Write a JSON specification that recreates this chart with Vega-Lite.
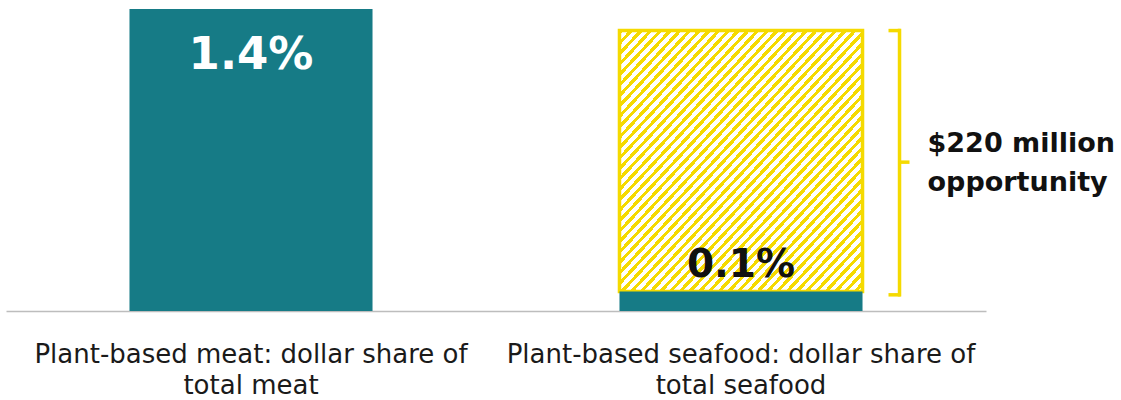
{
  "$schema": "https://vega.github.io/schema/vega-lite/v6.json",
  "width": 980,
  "height": 302,
  "autosize": {"type": "none"},
  "padding": {"left": 6, "top": 9, "right": 135, "bottom": 89},
  "background": "white",
  "config": {"view": {"stroke": null}, "font": "DejaVu Sans"},
  "datasets": {
    "bars": [
      {"category": "Plant-based meat: dollar share of total meat", "share": 1.4, "label": "1.4%"},
      {"category": "Plant-based seafood: dollar share of total seafood", "share": 0.09, "label": "0.1%"}
    ],
    "target": [
      {"category": "Plant-based seafood: dollar share of total seafood", "start": 0.09, "end": 1.3, "low": 0.075, "mid": 0.69, "note": "$220 million\nopportunity"}
    ]
  },
  "layer": [
    {
      "data": {"name": "target"},
      "mark": {
        "type": "bar",
        "stroke": "#f5da00",
        "strokeWidth": 3.5,
        "fill": {
          "gradient": "linear", "x1": 0, "y1": 0, "x2": 1, "y2": 1,
          "stops": [
            {"offset":0,"color":"#f5da00"},{"offset":0.009,"color":"#f5da00"},{"offset":0.009,"color":"#fff"},{"offset":0.02,"color":"#fff"},
            {"offset":0.02,"color":"#f5da00"},{"offset":0.029,"color":"#f5da00"},{"offset":0.029,"color":"#fff"},{"offset":0.04,"color":"#fff"},
            {"offset":0.04,"color":"#f5da00"},{"offset":0.049,"color":"#f5da00"},{"offset":0.049,"color":"#fff"},{"offset":0.06,"color":"#fff"},
            {"offset":0.06,"color":"#f5da00"},{"offset":0.069,"color":"#f5da00"},{"offset":0.069,"color":"#fff"},{"offset":0.08,"color":"#fff"},
            {"offset":0.08,"color":"#f5da00"},{"offset":0.089,"color":"#f5da00"},{"offset":0.089,"color":"#fff"},{"offset":0.1,"color":"#fff"},
            {"offset":0.1,"color":"#f5da00"},{"offset":0.109,"color":"#f5da00"},{"offset":0.109,"color":"#fff"},{"offset":0.12,"color":"#fff"},
            {"offset":0.12,"color":"#f5da00"},{"offset":0.129,"color":"#f5da00"},{"offset":0.129,"color":"#fff"},{"offset":0.14,"color":"#fff"},
            {"offset":0.14,"color":"#f5da00"},{"offset":0.149,"color":"#f5da00"},{"offset":0.149,"color":"#fff"},{"offset":0.16,"color":"#fff"},
            {"offset":0.16,"color":"#f5da00"},{"offset":0.169,"color":"#f5da00"},{"offset":0.169,"color":"#fff"},{"offset":0.18,"color":"#fff"},
            {"offset":0.18,"color":"#f5da00"},{"offset":0.189,"color":"#f5da00"},{"offset":0.189,"color":"#fff"},{"offset":0.2,"color":"#fff"},
            {"offset":0.2,"color":"#f5da00"},{"offset":0.209,"color":"#f5da00"},{"offset":0.209,"color":"#fff"},{"offset":0.22,"color":"#fff"},
            {"offset":0.22,"color":"#f5da00"},{"offset":0.229,"color":"#f5da00"},{"offset":0.229,"color":"#fff"},{"offset":0.24,"color":"#fff"},
            {"offset":0.24,"color":"#f5da00"},{"offset":0.249,"color":"#f5da00"},{"offset":0.249,"color":"#fff"},{"offset":0.26,"color":"#fff"},
            {"offset":0.26,"color":"#f5da00"},{"offset":0.269,"color":"#f5da00"},{"offset":0.269,"color":"#fff"},{"offset":0.28,"color":"#fff"},
            {"offset":0.28,"color":"#f5da00"},{"offset":0.289,"color":"#f5da00"},{"offset":0.289,"color":"#fff"},{"offset":0.3,"color":"#fff"},
            {"offset":0.3,"color":"#f5da00"},{"offset":0.309,"color":"#f5da00"},{"offset":0.309,"color":"#fff"},{"offset":0.32,"color":"#fff"},
            {"offset":0.32,"color":"#f5da00"},{"offset":0.329,"color":"#f5da00"},{"offset":0.329,"color":"#fff"},{"offset":0.34,"color":"#fff"},
            {"offset":0.34,"color":"#f5da00"},{"offset":0.349,"color":"#f5da00"},{"offset":0.349,"color":"#fff"},{"offset":0.36,"color":"#fff"},
            {"offset":0.36,"color":"#f5da00"},{"offset":0.369,"color":"#f5da00"},{"offset":0.369,"color":"#fff"},{"offset":0.38,"color":"#fff"},
            {"offset":0.38,"color":"#f5da00"},{"offset":0.389,"color":"#f5da00"},{"offset":0.389,"color":"#fff"},{"offset":0.4,"color":"#fff"},
            {"offset":0.4,"color":"#f5da00"},{"offset":0.409,"color":"#f5da00"},{"offset":0.409,"color":"#fff"},{"offset":0.42,"color":"#fff"},
            {"offset":0.42,"color":"#f5da00"},{"offset":0.429,"color":"#f5da00"},{"offset":0.429,"color":"#fff"},{"offset":0.44,"color":"#fff"},
            {"offset":0.44,"color":"#f5da00"},{"offset":0.449,"color":"#f5da00"},{"offset":0.449,"color":"#fff"},{"offset":0.46,"color":"#fff"},
            {"offset":0.46,"color":"#f5da00"},{"offset":0.469,"color":"#f5da00"},{"offset":0.469,"color":"#fff"},{"offset":0.48,"color":"#fff"},
            {"offset":0.48,"color":"#f5da00"},{"offset":0.489,"color":"#f5da00"},{"offset":0.489,"color":"#fff"},{"offset":0.5,"color":"#fff"},
            {"offset":0.5,"color":"#f5da00"},{"offset":0.509,"color":"#f5da00"},{"offset":0.509,"color":"#fff"},{"offset":0.52,"color":"#fff"},
            {"offset":0.52,"color":"#f5da00"},{"offset":0.529,"color":"#f5da00"},{"offset":0.529,"color":"#fff"},{"offset":0.54,"color":"#fff"},
            {"offset":0.54,"color":"#f5da00"},{"offset":0.549,"color":"#f5da00"},{"offset":0.549,"color":"#fff"},{"offset":0.56,"color":"#fff"},
            {"offset":0.56,"color":"#f5da00"},{"offset":0.569,"color":"#f5da00"},{"offset":0.569,"color":"#fff"},{"offset":0.58,"color":"#fff"},
            {"offset":0.58,"color":"#f5da00"},{"offset":0.589,"color":"#f5da00"},{"offset":0.589,"color":"#fff"},{"offset":0.6,"color":"#fff"},
            {"offset":0.6,"color":"#f5da00"},{"offset":0.609,"color":"#f5da00"},{"offset":0.609,"color":"#fff"},{"offset":0.62,"color":"#fff"},
            {"offset":0.62,"color":"#f5da00"},{"offset":0.629,"color":"#f5da00"},{"offset":0.629,"color":"#fff"},{"offset":0.64,"color":"#fff"},
            {"offset":0.64,"color":"#f5da00"},{"offset":0.649,"color":"#f5da00"},{"offset":0.649,"color":"#fff"},{"offset":0.66,"color":"#fff"},
            {"offset":0.66,"color":"#f5da00"},{"offset":0.669,"color":"#f5da00"},{"offset":0.669,"color":"#fff"},{"offset":0.68,"color":"#fff"},
            {"offset":0.68,"color":"#f5da00"},{"offset":0.689,"color":"#f5da00"},{"offset":0.689,"color":"#fff"},{"offset":0.7,"color":"#fff"},
            {"offset":0.7,"color":"#f5da00"},{"offset":0.709,"color":"#f5da00"},{"offset":0.709,"color":"#fff"},{"offset":0.72,"color":"#fff"},
            {"offset":0.72,"color":"#f5da00"},{"offset":0.729,"color":"#f5da00"},{"offset":0.729,"color":"#fff"},{"offset":0.74,"color":"#fff"},
            {"offset":0.74,"color":"#f5da00"},{"offset":0.749,"color":"#f5da00"},{"offset":0.749,"color":"#fff"},{"offset":0.76,"color":"#fff"},
            {"offset":0.76,"color":"#f5da00"},{"offset":0.769,"color":"#f5da00"},{"offset":0.769,"color":"#fff"},{"offset":0.78,"color":"#fff"},
            {"offset":0.78,"color":"#f5da00"},{"offset":0.789,"color":"#f5da00"},{"offset":0.789,"color":"#fff"},{"offset":0.8,"color":"#fff"},
            {"offset":0.8,"color":"#f5da00"},{"offset":0.809,"color":"#f5da00"},{"offset":0.809,"color":"#fff"},{"offset":0.82,"color":"#fff"},
            {"offset":0.82,"color":"#f5da00"},{"offset":0.829,"color":"#f5da00"},{"offset":0.829,"color":"#fff"},{"offset":0.84,"color":"#fff"},
            {"offset":0.84,"color":"#f5da00"},{"offset":0.849,"color":"#f5da00"},{"offset":0.849,"color":"#fff"},{"offset":0.86,"color":"#fff"},
            {"offset":0.86,"color":"#f5da00"},{"offset":0.869,"color":"#f5da00"},{"offset":0.869,"color":"#fff"},{"offset":0.88,"color":"#fff"},
            {"offset":0.88,"color":"#f5da00"},{"offset":0.889,"color":"#f5da00"},{"offset":0.889,"color":"#fff"},{"offset":0.9,"color":"#fff"},
            {"offset":0.9,"color":"#f5da00"},{"offset":0.909,"color":"#f5da00"},{"offset":0.909,"color":"#fff"},{"offset":0.92,"color":"#fff"},
            {"offset":0.92,"color":"#f5da00"},{"offset":0.929,"color":"#f5da00"},{"offset":0.929,"color":"#fff"},{"offset":0.94,"color":"#fff"},
            {"offset":0.94,"color":"#f5da00"},{"offset":0.949,"color":"#f5da00"},{"offset":0.949,"color":"#fff"},{"offset":0.96,"color":"#fff"},
            {"offset":0.96,"color":"#f5da00"},{"offset":0.969,"color":"#f5da00"},{"offset":0.969,"color":"#fff"},{"offset":0.98,"color":"#fff"},
            {"offset":0.98,"color":"#f5da00"},{"offset":0.989,"color":"#f5da00"},{"offset":0.989,"color":"#fff"},{"offset":1,"color":"#fff"}
          ]
        }
      },
      "encoding": {
        "x": {
          "field": "category", "type": "nominal", "sort": null,
          "scale": {
            "domain": ["Plant-based meat: dollar share of total meat", "Plant-based seafood: dollar share of total seafood"],
            "paddingInner": 0.504, "paddingOuter": 0.252
          },
          "axis": {
            "title": null,
            "domainColor": "#bdbdbd",
            "domainWidth": 1.5,
            "ticks": false,
            "labelAngle": 0,
            "labelFont": "DejaVu Sans",
            "labelFontSize": 26,
            "labelColor": "#1a1a1a",
            "labelPadding": 30,
            "labelLineHeight": 31,
            "labelLimit": 0,
            "labelExpr": "[slice(datum.label, 0, indexof(datum.label, ' total')), slice(datum.label, indexof(datum.label, ' total') + 1)]"
          }
        },
        "y": {"field": "end", "type": "quantitative", "scale": {"domain": [0, 1.4], "nice": false, "zero": true}, "axis": null},
        "y2": {"field": "start"}
      }
    },
    {
      "data": {"name": "bars"},
      "mark": {"type": "bar", "color": "#167b86"},
      "encoding": {
        "x": {"field": "category", "type": "nominal", "sort": null},
        "y": {"field": "share", "type": "quantitative"}
      }
    },
    {
      "data": {"name": "bars"},
      "transform": [{"filter": "datum.share > 1"}],
      "mark": {"type": "text", "color": "#ffffff", "fontSize": 45, "fontWeight": "bold", "baseline": "alphabetic", "dy": 60},
      "encoding": {
        "x": {"field": "category", "type": "nominal", "sort": null},
        "y": {"field": "share", "type": "quantitative"},
        "text": {"field": "label"}
      }
    },
    {
      "data": {"name": "bars"},
      "transform": [{"filter": "datum.share < 1"}],
      "mark": {"type": "text", "color": "#111111", "fontSize": 39, "fontWeight": "bold", "baseline": "alphabetic", "dy": -14.6},
      "encoding": {
        "x": {"field": "category", "type": "nominal", "sort": null},
        "y": {"field": "share", "type": "quantitative"},
        "text": {"field": "label"}
      }
    },
    {
      "data": {"name": "target"},
      "mark": {"type": "rule", "color": "#f5da00", "strokeWidth": 3.5, "strokeCap": "square", "xOffset": 37},
      "encoding": {
        "x": {"field": "category", "type": "nominal", "sort": null, "bandPosition": 1},
        "y": {"field": "end", "type": "quantitative"},
        "y2": {"field": "low"}
      }
    },
    {
      "data": {"name": "target"},
      "mark": {"type": "tick", "color": "#f5da00", "size": 12, "thickness": 3.5, "xOffset": 153.5, "opacity": 1},
      "encoding": {
        "x": {"field": "category", "type": "nominal", "sort": null},
        "y": {"field": "end", "type": "quantitative"}
      }
    },
    {
      "data": {"name": "target"},
      "mark": {"type": "tick", "color": "#f5da00", "size": 12, "thickness": 3.5, "xOffset": 153.5, "opacity": 1},
      "encoding": {
        "x": {"field": "category", "type": "nominal", "sort": null},
        "y": {"field": "low", "type": "quantitative"}
      }
    },
    {
      "data": {"name": "target"},
      "mark": {"type": "tick", "color": "#f5da00", "size": 10, "thickness": 3.5, "xOffset": 163.5, "opacity": 1},
      "encoding": {
        "x": {"field": "category", "type": "nominal", "sort": null},
        "y": {"field": "mid", "type": "quantitative"}
      }
    },
    {
      "data": {"name": "target"},
      "mark": {"type": "text", "color": "#111111", "fontSize": 27, "fontWeight": "bold", "align": "left", "baseline": "middle", "lineBreak": "\n", "lineHeight": 39, "xOffset": 65, "dy": -18},
      "encoding": {
        "x": {"field": "category", "type": "nominal", "sort": null, "bandPosition": 1},
        "y": {"field": "mid", "type": "quantitative"},
        "text": {"field": "note"}
      }
    }
  ]
}
